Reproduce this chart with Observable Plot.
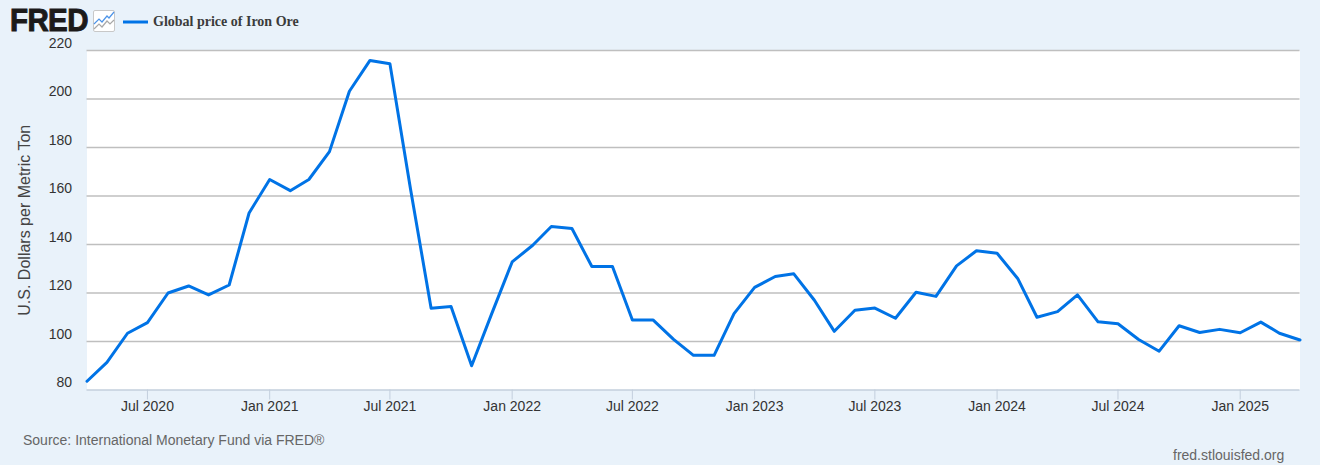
<!DOCTYPE html>
<html><head><meta charset="utf-8">
<script src="https://cdn.jsdelivr.net/npm/d3@7"></script>
<script src="https://cdn.jsdelivr.net/npm/@observablehq/plot@0.6"></script>
<style>
html,body{margin:0;padding:0;background:#e9f2fa;width:1320px;height:465px;overflow:hidden}
#wrap{position:relative;width:1320px;height:465px}
#chart svg{display:block}
.t{position:absolute;white-space:nowrap}
</style></head><body>
<div id="wrap">
<div id="chart"></div>
<div class="t" style="left:10px;top:9px;font:900 31px/24px 'Liberation Sans',Arial,sans-serif;color:#1c1a1a;letter-spacing:-.6px;-webkit-text-stroke:1px #1c1a1a;transform:scaleX(.95);transform-origin:0 0">FRED</div>
<svg class="t" style="left:93px;top:10px" width="23" height="22" viewBox="0 0 23 22"><rect x=".5" y=".5" width="21" height="21" rx="1.5" fill="#fff" stroke="#c8c8c8"/><path d="M1 14l5-5 3 3 5-6 2 2 5-6" fill="none" stroke="#4d94e8" stroke-width="1.2"/><path d="M1 19l5-5 3 3 5-6 3 3 4-4" fill="none" stroke="#a8a8a8" stroke-width="1.2"/></svg>
<svg class="t" style="left:123px;top:20px" width="26" height="4"><rect width="25" height="3" y=".5" fill="#0073e6"/></svg>
<div class="t" style="left:153px;top:13px;font:bold 14px/17px 'Liberation Serif','Times New Roman',serif;color:#3b3b3b">Global price of Iron Ore</div>
<div class="t" style="left:23px;top:432px;font:14px/17px 'Liberation Sans',Arial,sans-serif;color:#666">Source: International Monetary Fund via FRED®</div>
<div class="t" style="left:1173px;top:447px;font:14px/17px 'Liberation Sans',Arial,sans-serif;color:#666">fred.stlouisfed.org</div>
</div>
<script>
const startYear = 2020, startMonth = 3;
const prices = [83.6,91.4,103.4,107.8,120,122.9,119.2,123.3,153,166.8,162.2,166.8,178.3,203.2,215.9,214.5,162.9,113.7,114.4,90,111.3,132.8,139.7,147.4,146.6,130.9,130.9,108.9,108.9,100.9,94.3,94.3,111.5,122.3,126.8,127.9,117,104.2,112.9,113.8,109.6,120.3,118.6,131.2,137.4,136.4,126,110,112.3,119.2,108.1,107.3,100.8,96,106.5,103.7,105,103.6,108,103.4,100.6];
const yTicks = [80,100,120,140,160,180,200,220];
const xTicks = [[2020,6],[2021,0],[2021,6],[2022,0],[2022,6],[2023,0],[2023,6],[2024,0],[2024,6],[2025,0]].map(([y,m])=>new Date(Date.UTC(y,m,1)));
const rows = prices.map((v,i)=>({date:new Date(Date.UTC(startYear,startMonth+i,1)),v}));
const font = "'Liberation Sans',Arial,sans-serif";
const chart = Plot.plot({
  width:1320,height:465,marginLeft:86.5,marginRight:20.5,marginTop:50,marginBottom:75.5,
  style:{background:"transparent",fontFamily:font},
  x:{type:"utc",domain:[rows[0].date,rows[rows.length-1].date]},
  y:{type:"linear",domain:[80,220]},
  marks:[
    Plot.frame({fill:"#fff",stroke:null}),
    Plot.ruleY(yTicks.filter(d=>d>80),{stroke:"#bfbfbf",strokeWidth:1.5}),
    Plot.ruleY([80],{stroke:"#c3cfdd",strokeWidth:1.5}),
    Plot.axisX({ticks:xTicks,tickFormat:d3.utcFormat("%b %Y"),tickSize:10,stroke:"#c3cfdd",fontSize:14,fill:"#333",color:"#333",tickPadding:1,label:null,anchor:"bottom"}),
    Plot.axisY({ticks:yTicks,tickSize:0,tickPadding:15,dy:-7,fontSize:14,fill:"#333",anchor:"left",label:null}),
    Plot.axisY({ticks:[],tickSize:0,fontSize:16,fill:"#444",label:"U.S. Dollars per Metric Ton",labelAnchor:"center",labelArrow:"none",labelOffset:68,dy:-1,anchor:"left"}),
    Plot.line(rows,{x:"date",y:"v",stroke:"#0073e6",strokeWidth:3,strokeLinejoin:"round"})
  ]
});
document.getElementById("chart").appendChild(chart);
</script>
</body></html>
